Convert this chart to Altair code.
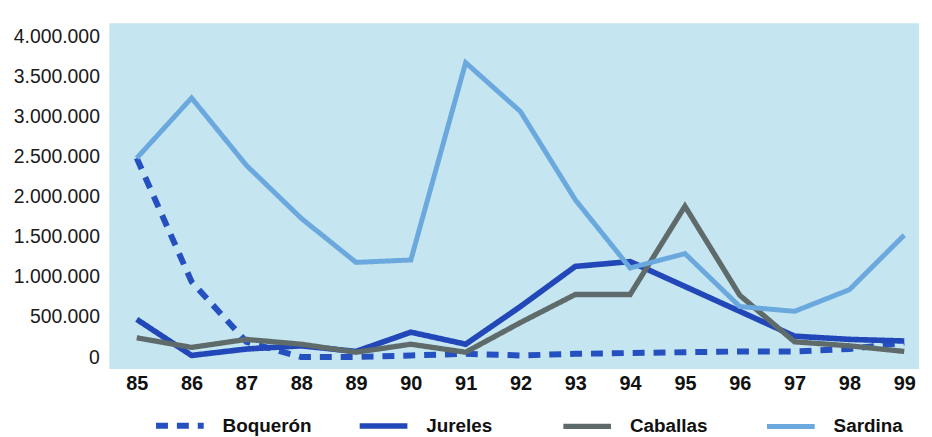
import altair as alt
import pandas as pd

years = [85, 86, 87, 88, 89, 90, 91, 92, 93, 94, 95, 96, 97, 98, 99]
series_names = ["Boquerón", "Jureles", "Caballas", "Sardina"]
boqueron = [2480000, 940000, 190000, 0, 0, 20000, 40000, 20000, 40000, 50000, 60000, 70000, 70000, 100000, 180000]
jureles = [470000, 20000, 100000, 140000, 70000, 310000, 160000, 630000, 1130000, 1190000, 880000, 570000, 260000, 220000, 200000]
caballas = [240000, 120000, 220000, 160000, 60000, 160000, 60000, 430000, 780000, 780000, 1880000, 770000, 190000, 140000, 70000]
sardina = [2480000, 3230000, 2390000, 1730000, 1180000, 1210000, 3670000, 3060000, 1960000, 1110000, 1290000, 630000, 570000, 840000, 1520000]

colors = ["#2550c0", "#2147b8", "#5f6b6a", "#6aa8dd"]
dashes = [[12, 9], [1, 0], [1, 0], [1, 0]]
widths = [6, 5, 4.5, 4.5]

rows = []
for name, vals in zip(series_names, [boqueron, jureles, caballas, sardina]):
    for y, v in zip(years, vals):
        rows.append({"year": y, "value": v, "serie": name})
df = pd.DataFrame(rows)

font = "Liberation Sans"

chart = alt.Chart(df).mark_line(strokeJoin="miter", strokeCap="butt").encode(
    x=alt.X("year:Q",
            scale=alt.Scale(domain=[84.5, 99.27], nice=False, zero=False),
            axis=alt.Axis(values=years, title=None, domain=False, ticks=False, grid=False,
                          labelFontSize=20, labelFontWeight="bold", labelColor="#111",
                          labelPadding=5, labelFont=font)),
    y=alt.Y("value:Q",
            scale=alt.Scale(domain=[-150000, 4160000], nice=False, zero=False),
            axis=alt.Axis(values=[0, 500000, 1000000, 1500000, 2000000, 2500000, 3000000, 3500000, 4000000],
                          title=None, domain=False, ticks=False, grid=False,
                          labelFontSize=19.5, labelColor="#1a1a1a", labelPadding=10, labelFont=font,
                          labelExpr="replace(format(datum.value, ','), regexp(',', 'g'), '.')")),
    color=alt.Color("serie:N", scale=alt.Scale(domain=series_names, range=colors),
                    legend=alt.Legend(title=None, orient="none", legendX=44, legendY=378,
                                      direction="horizontal", columns=4, gridAlign="all",
                                      columnPadding=36, symbolType="stroke", symbolSize=2304,
                                      symbolStrokeWidth=6, labelFontSize=19, labelFontWeight="bold",
                                      labelColor="#111", labelFont=font, labelOffset=16)),
    strokeDash=alt.StrokeDash("serie:N", scale=alt.Scale(domain=series_names, range=dashes)),
    strokeWidth=alt.StrokeWidth("serie:N", scale=alt.Scale(domain=series_names, range=widths), legend=None),
).properties(
    width=815, height=348,
    autosize=alt.AutoSizeParams(type="none"),
    padding={"left": 102, "top": 14, "right": 5, "bottom": 80},
).configure_view(fill="#c5e5f0", stroke=None)

chart.save("out.html", embed_options={"renderer": "svg", "actions": False})
